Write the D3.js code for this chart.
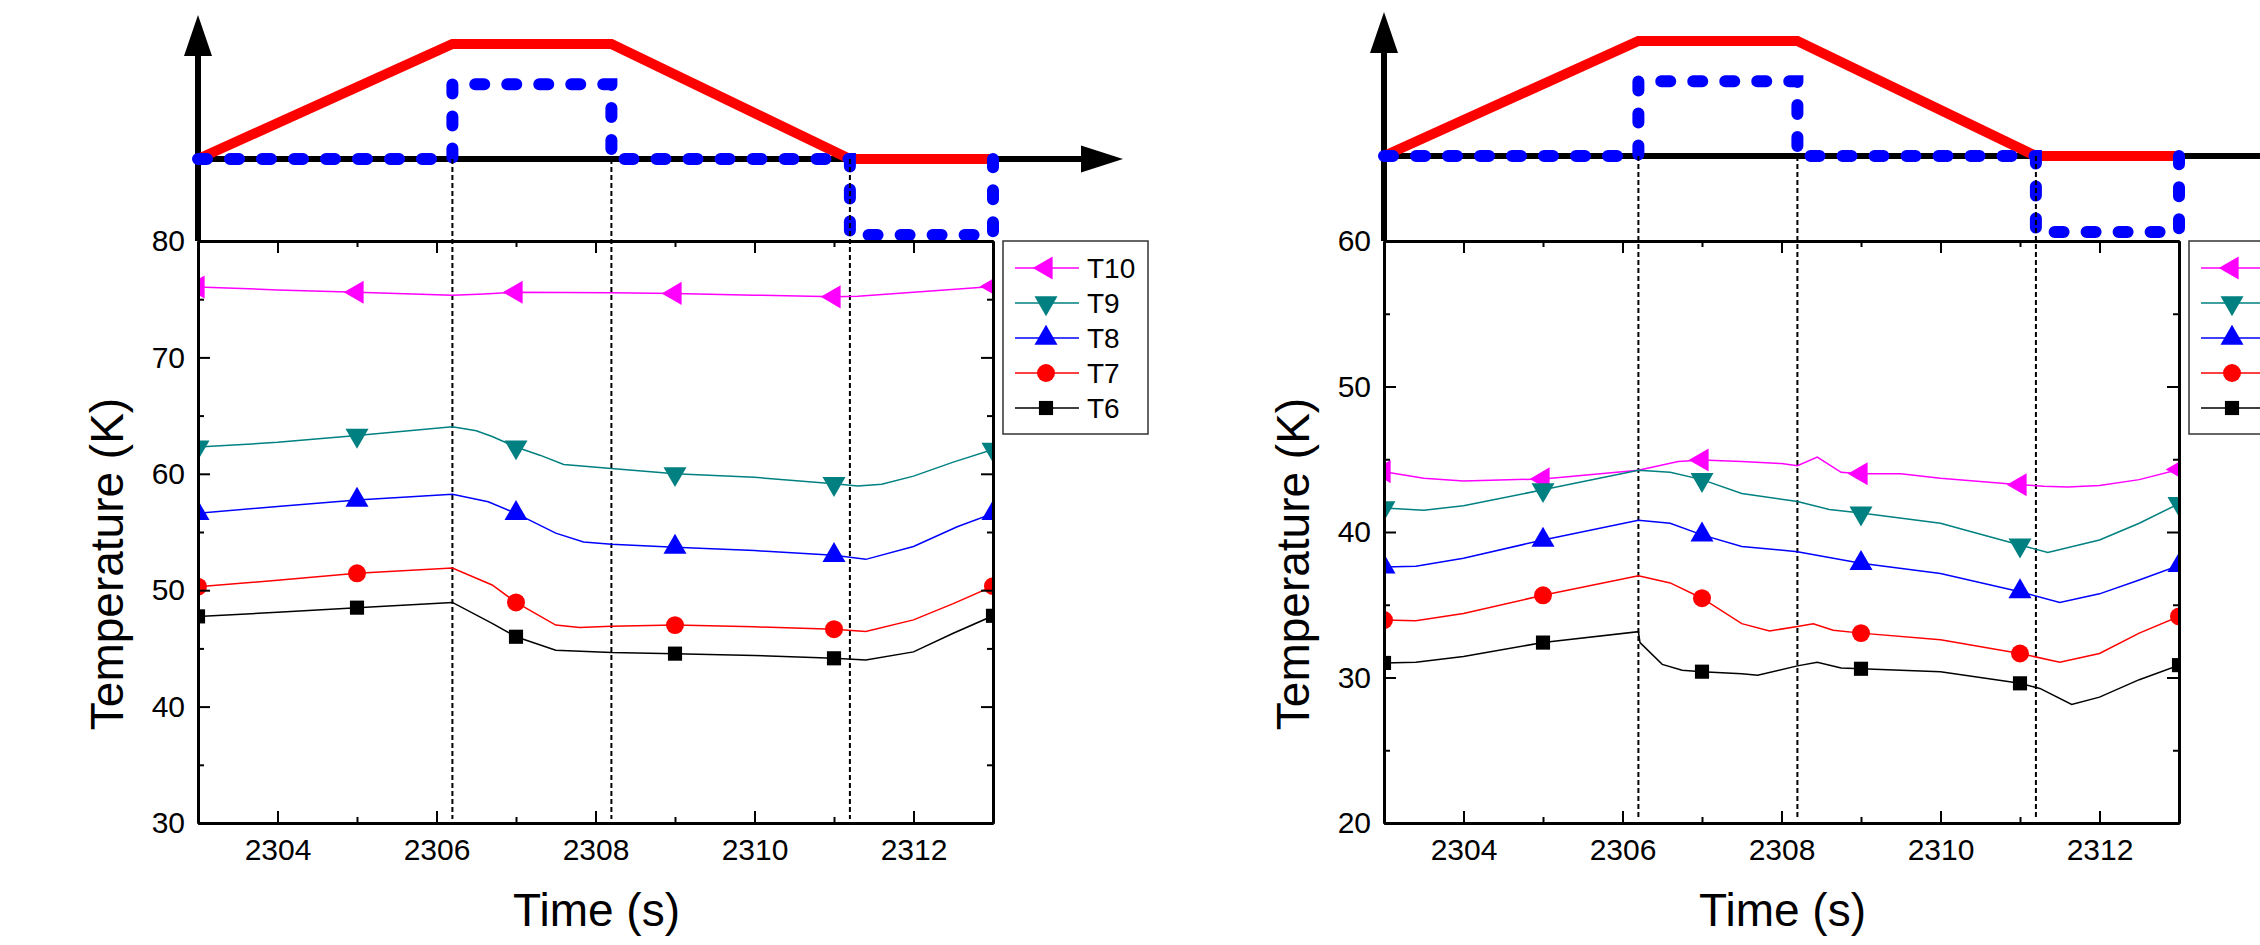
<!DOCTYPE html>
<html>
<head>
<meta charset="utf-8">
<script src="https://cdn.jsdelivr.net/npm/d3@7"></script>
<style>
  body { margin: 0; background: #fff; }
  svg { display: block; }
</style>
</head>
<body>
<div id="chart"></div>
<script>
// --- data ---
const seriesNames = ["T10", "T9", "T8", "T7", "T6"];
const seriesColors = ["#ff00ff", "#008080", "#0000ff", "#ff0000", "#000000"];
const markerTimes = [2303, 2305, 2307, 2309, 2311, 2313];
const eventTimes = [2306.2, 2308.2, 2311.2];
const xDomain = [2303, 2313];
const xMajorTicks = [2304, 2306, 2308, 2310, 2312];
const xMinorTicks = [2305, 2307, 2309, 2311];

// schematic profiles (time, relative level)
const heaterProfile = [[2303, 0], [2306.2, 1], [2308.2, 1], [2311.2, 0], [2313, 0]];
const valveProfile = [[2303, 0], [2306.2, 0], [2306.2, 0.65], [2308.2, 0.65], [2308.2, 0],
  [2311.2, 0], [2311.2, -0.66], [2313, -0.66], [2313, 0]];

// left panel
const leftYDomain = [30, 80];
const leftYTicks = [30, 40, 50, 60, 70, 80];
const leftYMinor = [35, 45, 55, 65, 75];
const leftT10 = [[2303, 76.05], [2304, 75.8], [2305, 75.6], [2306.2, 75.35], [2306.6, 75.45], [2307, 75.6],
  [2308.2, 75.55], [2309, 75.5], [2310, 75.35], [2311, 75.2], [2311.3, 75.25], [2312, 75.6], [2313, 76.1]];
const leftT9 = [[2303, 62.3], [2304, 62.7], [2305, 63.3], [2306.2, 64.05], [2306.5, 63.7], [2306.7, 63.2],
  [2307, 62.3], [2307.3, 61.6], [2307.6, 60.8], [2308.2, 60.45], [2309, 60.0], [2310, 59.7], [2311, 59.15],
  [2311.3, 58.95], [2311.6, 59.1], [2312, 59.8], [2312.5, 61.0], [2313, 62.1]];
const leftT8 = [[2303, 56.6], [2304, 57.2], [2305, 57.75], [2306.2, 58.25], [2306.65, 57.6], [2307, 56.6],
  [2307.5, 54.9], [2307.85, 54.15], [2308.2, 53.95], [2309, 53.7], [2310, 53.4], [2311, 53.0],
  [2311.4, 52.65], [2312, 53.75], [2312.55, 55.45], [2313, 56.6]];
const leftT7 = [[2303, 50.3], [2304, 50.85], [2305, 51.45], [2306.2, 51.9], [2306.7, 50.45], [2307, 48.95],
  [2307.5, 47.0], [2307.8, 46.8], [2308.2, 46.9], [2309, 47.0], [2310, 46.85], [2311, 46.65],
  [2311.4, 46.45], [2312, 47.45], [2312.5, 48.85], [2313, 50.35]];
const leftT6 = [[2303, 47.75], [2304, 48.1], [2305, 48.5], [2306.2, 48.95], [2306.7, 47.15], [2307, 46.0],
  [2307.5, 44.85], [2308.2, 44.65], [2309, 44.55], [2310, 44.4], [2311, 44.15], [2311.4, 44.0],
  [2312, 44.7], [2312.5, 46.3], [2313, 47.8]];

// right panel
const rightYDomain = [20, 60];
const rightYTicks = [20, 30, 40, 50, 60];
const rightYMinor = [25, 35, 45, 55];
const rightT10 = [[2303, 44.15], [2303.5, 43.7], [2304, 43.5], [2305, 43.65], [2306.2, 44.25], [2306.7, 44.85],
  [2307, 44.95], [2307.5, 44.85], [2308, 44.7], [2308.2, 44.55], [2308.45, 45.15], [2308.75, 44.1],
  [2309, 44.0], [2309.5, 44.0], [2310, 43.7], [2311, 43.25], [2311.3, 43.15], [2311.6, 43.1],
  [2312, 43.2], [2312.5, 43.6], [2313, 44.3]];
const rightT9 = [[2303, 41.65], [2303.5, 41.5], [2304, 41.8], [2305, 42.9], [2306.2, 44.25], [2306.6, 44.1],
  [2307, 43.6], [2307.5, 42.65], [2308.2, 42.1], [2308.6, 41.55], [2309, 41.3], [2310, 40.6],
  [2310.4, 40.0], [2311, 39.1], [2311.35, 38.6], [2312, 39.45], [2312.5, 40.6], [2313, 41.95]];
const rightT8 = [[2303, 37.6], [2303.4, 37.65], [2304, 38.2], [2305, 39.45], [2306.2, 40.8], [2306.6, 40.6],
  [2307, 39.8], [2307.5, 39.0], [2308.2, 38.65], [2309, 37.85], [2310, 37.15], [2311, 35.9],
  [2311.5, 35.15], [2312, 35.75], [2312.5, 36.7], [2313, 37.7]];
const rightT7 = [[2303, 33.95], [2303.4, 33.9], [2304, 34.4], [2305, 35.65], [2306.2, 37.0], [2306.6, 36.5],
  [2307, 35.45], [2307.5, 33.7], [2307.85, 33.2], [2308.2, 33.5], [2308.4, 33.7], [2308.65, 33.25],
  [2309, 33.05], [2310, 32.6], [2311, 31.65], [2311.5, 31.05], [2312, 31.65], [2312.5, 33.05], [2313, 34.2]];
const rightT6 = [[2303, 31.0], [2303.4, 31.05], [2304, 31.45], [2305, 32.4], [2306.2, 33.15], [2306.22, 32.4],
  [2306.5, 30.9], [2306.75, 30.5], [2307, 30.4], [2307.5, 30.25], [2307.7, 30.15], [2308.2, 30.8],
  [2308.45, 31.05], [2308.75, 30.65], [2309, 30.6], [2310, 30.4], [2311, 29.6], [2311.25, 29.25],
  [2311.65, 28.15], [2312, 28.65], [2312.5, 29.85], [2313, 30.85]];

const FONT = "'Liberation Sans', Arial, sans-serif";
const W = 2260, H = 945;

const svg = d3.select("#chart").append("svg")
  .attr("width", W)
  .attr("height", H)
  .style("font-family", FONT);

// symbol for each series
const symbolFor = [
  { type: d3.symbolTriangle, size: 230, rot: -90 },
  { type: d3.symbolTriangle, size: 230, rot: 180 },
  { type: d3.symbolTriangle, size: 230, rot: 0 },
  { type: d3.symbolCircle, size: 254, rot: 0 },
  { type: d3.symbolSquare, size: 200, rot: 0 }
];

drawPanel({
  id: "left", dx: 0, base: 159, legendText: true,
  yDomain: leftYDomain, yTicks: leftYTicks, yMinor: leftYMinor,
  series: [leftT10, leftT9, leftT8, leftT7, leftT6]
});
// the right panel runs off the picture edge, its legend labels are not visible
drawPanel({
  id: "right", dx: 1186, base: 156, legendText: false,
  yDomain: rightYDomain, yTicks: rightYTicks, yMinor: rightYMinor,
  series: [rightT10, rightT9, rightT8, rightT7, rightT6]
});

function drawPanel(p) {
  const left = 198 + p.dx, right = 993 + p.dx;
  const top = 241, bottom = 823;

  const x = d3.scaleLinear().domain(xDomain).range([left, right]);
  const y = d3.scaleLinear().domain(p.yDomain).range([bottom, top]);
  const sy = d3.scaleLinear().domain([0, 1]).range([p.base, p.base - 115]);

  const g = svg.append("g");

  // --- schematic above the plot ---
  // y arrow
  g.append("line")
    .attr("x1", left).attr("x2", left)
    .attr("y1", top).attr("y2", p.base - 106)
    .attr("stroke", "#000").attr("stroke-width", 6);
  g.append("path")
    .attr("d", `M${left},${p.base - 144} L${left - 14},${p.base - 103} L${left + 14},${p.base - 103} Z`)
    .attr("fill", "#000");
  // time arrow
  g.append("line")
    .attr("x1", left).attr("x2", right + 90)
    .attr("y1", p.base).attr("y2", p.base)
    .attr("stroke", "#000").attr("stroke-width", 6);
  g.append("path")
    .attr("d", `M${right + 130},${p.base} L${right + 88},${p.base - 13.5} L${right + 88},${p.base + 13.5} Z`)
    .attr("fill", "#000");

  const sline = d3.line().x(d => x(d[0])).y(d => sy(d[1]));
  g.append("path")
    .datum(heaterProfile)
    .attr("d", sline)
    .attr("fill", "none")
    .attr("stroke", "#ff0000")
    .attr("stroke-width", 10);
  g.append("path")
    .datum(valveProfile)
    .attr("d", sline)
    .attr("fill", "none")
    .attr("stroke", "#0000ff")
    .attr("stroke-width", 12)
    .attr("stroke-linecap", "round")
    .attr("stroke-dasharray", "9,23");

  // event lines
  g.selectAll(".event")
    .data(eventTimes)
    .enter()
    .append("line")
    .attr("x1", d => x(d)).attr("x2", d => x(d))
    .attr("y1", p.base).attr("y2", bottom - 4)
    .attr("stroke", "#000")
    .attr("stroke-width", 2)
    .attr("stroke-dasharray", "5,3");

  // --- data lines ---
  svg.append("clipPath").attr("id", "clip-" + p.id)
    .append("rect")
    .attr("x", left).attr("y", top)
    .attr("width", right - left).attr("height", bottom - top);

  const plot = g.append("g").attr("clip-path", `url(#clip-${p.id})`);
  const line = d3.line().x(d => x(d[0])).y(d => y(d[1]));

  p.series.forEach((data, i) => {
    plot.append("path")
      .datum(data)
      .attr("d", line)
      .attr("fill", "none")
      .attr("stroke", seriesColors[i])
      .attr("stroke-width", 1.5);

    const sym = symbolFor[i];
    plot.selectAll(".m" + i)
      .data(data.filter(d => markerTimes.includes(d[0])))
      .enter()
      .append("path")
      .attr("d", d3.symbol().type(sym.type).size(sym.size))
      .attr("transform", d => `translate(${x(d[0])},${y(d[1])}) rotate(${sym.rot})`)
      .attr("fill", seriesColors[i]);
  });

  // --- axes ---
  const styleAxis = sel => {
    sel.attr("font-family", FONT).attr("font-size", 30);
    sel.select(".domain").attr("stroke-width", 3);
    sel.selectAll(".tick line").attr("stroke-width", 2);
    sel.selectAll(".tick text").attr("fill", "#000");
  };

  g.append("g")
    .attr("transform", `translate(0,${bottom})`)
    .call(d3.axisBottom(x).tickValues(xMajorTicks).tickFormat(d3.format("d"))
      .tickSize(-12).tickSizeOuter(0).tickPadding(16))
    .call(styleAxis);
  g.append("g")
    .attr("transform", `translate(0,${bottom})`)
    .call(d3.axisBottom(x).tickValues(xMinorTicks).tickFormat("").tickSize(-6).tickSizeOuter(0))
    .call(styleAxis);
  g.append("g")
    .attr("transform", `translate(0,${top})`)
    .call(d3.axisTop(x).tickValues(xMajorTicks).tickFormat("").tickSize(-12).tickSizeOuter(0))
    .call(styleAxis);
  g.append("g")
    .attr("transform", `translate(0,${top})`)
    .call(d3.axisTop(x).tickValues(xMinorTicks).tickFormat("").tickSize(-6).tickSizeOuter(0))
    .call(styleAxis);

  g.append("g")
    .attr("transform", `translate(${left},0)`)
    .call(d3.axisLeft(y).tickValues(p.yTicks).tickFormat(d3.format("d"))
      .tickSize(-12).tickSizeOuter(0).tickPadding(13))
    .call(styleAxis);
  g.append("g")
    .attr("transform", `translate(${left},0)`)
    .call(d3.axisLeft(y).tickValues(p.yMinor).tickFormat("").tickSize(-6).tickSizeOuter(0))
    .call(styleAxis);
  g.append("g")
    .attr("transform", `translate(${right},0)`)
    .call(d3.axisRight(y).tickValues(p.yTicks).tickFormat("").tickSize(-12).tickSizeOuter(0))
    .call(styleAxis);
  g.append("g")
    .attr("transform", `translate(${right},0)`)
    .call(d3.axisRight(y).tickValues(p.yMinor).tickFormat("").tickSize(-6).tickSizeOuter(0))
    .call(styleAxis);

  // axis titles
  g.append("text")
    .attr("x", (left + right) / 2 + 1)
    .attr("y", 926)
    .attr("text-anchor", "middle")
    .style("font-size", "46px")
    .text("Time (s)");
  g.append("text")
    .attr("transform", `translate(${123 + p.dx},564) rotate(-90)`)
    .attr("text-anchor", "middle")
    .style("font-size", "46px")
    .text("Temperature (K)");

  // --- legend ---
  const lg = g.append("g").attr("transform", `translate(${1003 + p.dx},241)`);
  lg.append("rect")
    .attr("width", 145).attr("height", 193)
    .attr("fill", "#fff")
    .attr("stroke", "#333")
    .attr("stroke-width", 1.5);
  seriesNames.forEach((name, i) => {
    const row = lg.append("g").attr("transform", `translate(0,${27 + i * 35})`);
    row.append("line")
      .attr("x1", 12).attr("x2", 76)
      .attr("stroke", seriesColors[i]).attr("stroke-width", 1.5);
    row.append("path")
      .attr("d", d3.symbol().type(symbolFor[i].type).size(symbolFor[i].size))
      .attr("transform", `translate(43,0) rotate(${symbolFor[i].rot})`)
      .attr("fill", seriesColors[i]);
    if (p.legendText) {
      row.append("text")
        .attr("x", 84)
        .attr("dy", "0.36em")
        .style("font-size", "28px")
        .text(name);
    }
  });
}
</script>
</body>
</html>
